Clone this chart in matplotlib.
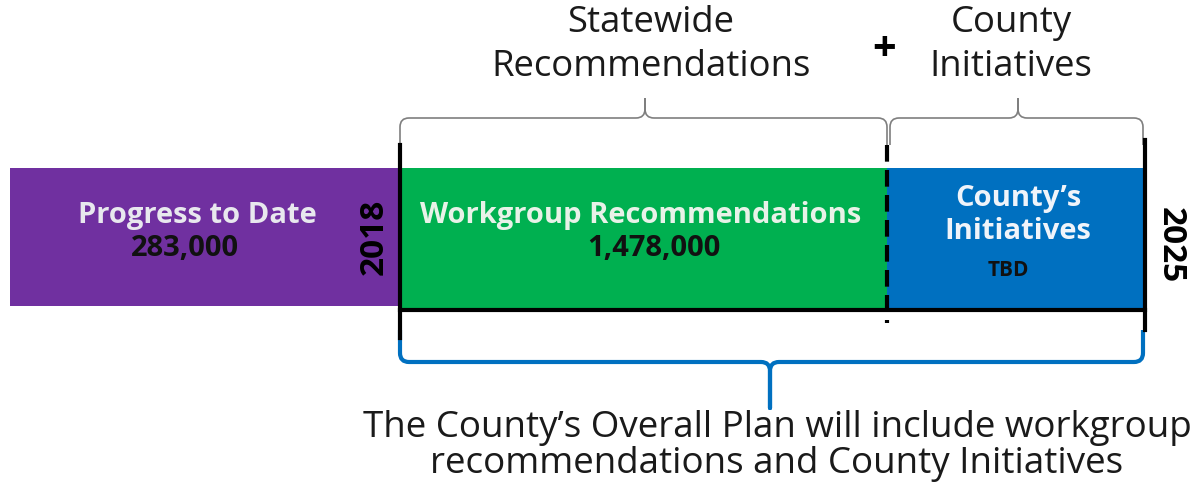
import matplotlib.pyplot as plt
from matplotlib.path import Path
from matplotlib.patches import PathPatch

# segments of the timeline bar (diagram units = pixels of the original)
seg_names = ['Progress to Date', 'Workgroup Recommendations', "County\u2019s\nInitiatives"]
seg_values = ['283,000', '1,478,000', 'TBD']
seg_left = [10, 400, 887]
seg_width = [390, 487, 258]
seg_colors = ['#7030A0', '#00B050', '#0070C0']
years = ['2018', '2025']

plt.rcParams['font.family'] = ['Open Sans', 'DejaVu Sans']

fig = plt.figure(figsize=(11.95, 4.82), dpi=100)
ax = fig.add_axes([0, 0, 1, 1])
ax.set_xlim(0, 1195)
ax.set_ylim(482, 0)
ax.axis('off')

# bars
ax.barh([236.5], [seg_width[0]], left=[seg_left[0]], height=138, color=seg_colors[0])
ax.barh([239, 239], seg_width[1:], left=seg_left[1:], height=142, color=seg_colors[1:])


def brace(x0, x1, xm, yend, ybar, ytip, color, lw, r=9):
    s = 1 if ytip > ybar else -1
    verts = [(x0, yend), (x0, ybar - s * r), (x0, ybar), (x0 + r, ybar),
             (xm - r, ybar), (xm, ybar), (xm, ybar + s * r), (xm, ytip),
             (xm, ybar + s * r), (xm, ybar), (xm + r, ybar),
             (x1 - r, ybar), (x1, ybar), (x1, ybar - s * r), (x1, yend)]
    codes = [Path.MOVETO, Path.LINETO, Path.CURVE3, Path.CURVE3,
             Path.LINETO, Path.CURVE3, Path.CURVE3, Path.LINETO,
             Path.LINETO, Path.CURVE3, Path.CURVE3,
             Path.LINETO, Path.CURVE3, Path.CURVE3, Path.LINETO]
    ax.add_patch(PathPatch(Path(verts, codes), fill=False, edgecolor=color,
                           lw=lw, capstyle='butt', joinstyle='round'))


# boundary lines
ax.plot([400, 400], [145, 338], color='black', lw=3)
ax.plot([887, 887], [145, 323], color='black', lw=3, ls=(0, (4, 2)))
ax.plot([1145, 1145], [140, 330], color='black', lw=3)
ax.plot([400, 1145], [310, 310], color='black', lw=3)

# braces
brace(400, 887, 645, 145, 118, 99, '#7F7F7F', 1.2)
brace(890, 1143, 1018, 145, 118, 99, '#7F7F7F', 1.2)
brace(400, 1143, 770, 330, 362, 408, '#0070C0', 3)

# headings
ax.text(651, 45, 'Statewide\nRecommendations', ha='center', va='center',
        fontsize=26.3, linespacing=1.3, color='#1a1a1a')
ax.text(1011, 45, 'County\nInitiatives', ha='center', va='center',
        fontsize=26.3, linespacing=1.3, color='#1a1a1a')
ax.text(884, 50, '+', ha='center', va='center', fontsize=30,
        fontweight='bold', color='black')

# labels in bars
ax.text(197, 215, seg_names[0], ha='center', va='center', fontsize=21,
        fontweight='bold', color='#E8E8EE')
ax.text(185, 249, seg_values[0], ha='center', va='center', fontsize=21,
        fontweight='bold', color='#111111')
ax.text(641, 215, seg_names[1], ha='center', va='center', fontsize=21,
        fontweight='bold', color='#E8F2E8')
ax.text(654, 249, seg_values[1], ha='center', va='center', fontsize=21,
        fontweight='bold', color='#111111')
ax.text(1018, 215, seg_names[2], ha='center', va='center', fontsize=21,
        fontweight='bold', color='#F0F4FA', linespacing=1.15)
ax.text(1008, 270, seg_values[2], ha='center', va='center', fontsize=15,
        fontweight='bold', color='#111111')

# years
ax.text(374, 237, years[0], ha='center', va='center', rotation=90,
        fontsize=24, fontweight='bold', color='black')
ax.text(1170, 245, years[1], ha='center', va='center', rotation=270,
        fontsize=24, fontweight='bold', color='black')

# bottom note
ax.text(777, 446, "The County\u2019s Overall Plan will include workgroup\n"
        "recommendations and County Initiatives", ha='center', va='center',
        fontsize=26.5, linespacing=1.03, color='#1a1a1a')

fig.savefig('out.png', dpi=100)
